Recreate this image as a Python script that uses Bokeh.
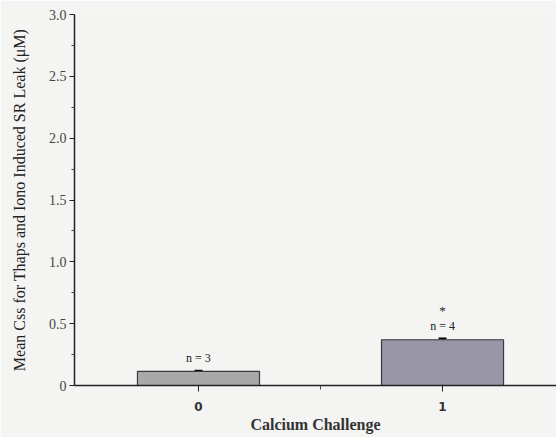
from bokeh.plotting import figure
from bokeh.models import Range1d, FixedTicker, ColumnDataSource, Whisker
from bokeh.core.properties import value
from bokeh.embed import file_html
from bokeh.resources import INLINE

challenge = [0, 1]
css_mean = [0.115, 0.37]
css_err = [0.004, 0.01]
n_labels = ["n = 3", "n = 4"]
sig_marks = ["", "*"]
bar_colors = ["#a9a9a9", "#9896a6"]
y_ticks = [0, 0.5, 1.0, 1.5, 2.0, 2.5, 3.0]
y_tick_labels = ["0", "0.5", "1.0", "1.5", "2.0", "2.5", "3.0"]

src = ColumnDataSource(dict(
    x=challenge, top=css_mean,
    upper=[m + e for m, e in zip(css_mean, css_err)],
    lower=[m - e for m, e in zip(css_mean, css_err)],
    n=n_labels, sig=sig_marks, color=bar_colors,
))

p = figure(width=556, height=437, output_backend="svg", toolbar_location=None,
           x_range=Range1d(-0.508, 1.467), y_range=Range1d(0, 3.0),
           min_border_left=74, min_border_right=0, min_border_top=14, min_border_bottom=52)
p.background_fill_color = "#f4f4f2"
p.border_fill_color = "#f4f4f2"
p.outline_line_color = None
p.grid.visible = False

p.vbar(x="x", top="top", width=0.5, bottom=0, source=src, fill_color="color",
       line_color="#3a3a3a", line_width=1.2)
w = Whisker(base="x", upper="upper", lower="lower", source=src, dimension="height",
            line_color="#222222", line_width=1.5)
w.upper_head.size = 8
w.lower_head.size = 8
w.upper_head.line_width = 2
w.lower_head.line_width = 2
p.add_layout(w)

p.text(x="x", y="upper", text="n", source=src, text_align="center", text_baseline="bottom",
       y_offset=-6, text_font=value("Liberation Serif"), text_font_size="12px", text_color="#222222")
p.text(x="x", y="upper", text="sig", source=src, text_align="center", text_baseline="bottom",
       y_offset=-21, text_font=value("Liberation Serif"), text_font_size="13px", text_color="#222222")

# y axis
ya = p.yaxis[0]
ya.ticker = FixedTicker(ticks=y_ticks, minor_ticks=[0.25, 0.75, 1.25, 1.75, 2.25, 2.75])
ya.major_label_overrides = {t: l for t, l in zip(y_ticks, y_tick_labels)}
ya.axis_label = "Mean Css for Thaps and Iono Induced SR Leak (μM)"
ya.axis_label_text_font = "Liberation Serif"
ya.axis_label_text_font_style = "normal"
ya.axis_label_text_font_size = "16px"
ya.axis_label_text_color = "#222222"
ya.axis_label_standoff = 18
ya.major_label_text_font = "Liberation Serif"
ya.major_label_text_font_size = "14px"
ya.major_label_text_color = "#444444"
ya.major_label_standoff = 3
ya.major_tick_in = 0
ya.major_tick_out = 5
ya.minor_tick_in = 0
ya.minor_tick_out = 3
ya.axis_line_color = "#222222"
ya.axis_line_width = 1.5
ya.major_tick_line_color = "#222222"
ya.minor_tick_line_color = "#444444"

# x axis
xa = p.xaxis[0]
xa.ticker = FixedTicker(ticks=challenge, minor_ticks=[0.5])
xa.axis_label = "Calcium Challenge"
xa.axis_label_text_font = "Liberation Serif"
xa.axis_label_text_font_style = "bold"
xa.axis_label_text_font_size = "16px"
xa.axis_label_text_color = "#333333"
xa.axis_label_standoff = 2
xa.major_label_text_font = "DejaVu Sans"
xa.major_label_text_font_style = "bold"
xa.major_label_text_font_size = "12px"
xa.major_label_text_color = "#333333"
xa.major_label_standoff = 10
xa.major_tick_in = 0
xa.major_tick_out = 6
xa.minor_tick_in = 0
xa.minor_tick_out = 4
xa.axis_line_color = "#222222"
xa.axis_line_width = 1.5
xa.major_tick_line_color = "#222222"
xa.minor_tick_line_color = "#444444"

open("out.html", "w").write(file_html(p, INLINE))
